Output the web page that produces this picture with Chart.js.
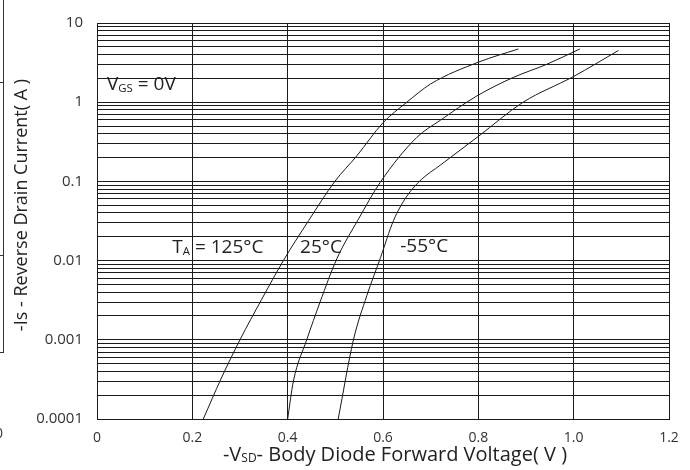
<!DOCTYPE html>
<html>
<head>
<meta charset="utf-8">
<script src="https://cdn.jsdelivr.net/npm/chart.js@4/dist/chart.umd.min.js"></script>
<style>
  body { margin: 0; background: #fff; }
  #wrap { width: 690px; height: 470px; }
</style>
</head>
<body>
<div id="wrap"><canvas id="diodeChart" width="690" height="470"></canvas></div>
<script>
// values (V, A)
const seriesNames = ['125°C', '25°C', '-55°C'];
const v125 = [0.223, 0.26, 0.300, 0.345, 0.391, 0.444, 0.499, 0.545, 0.60, 0.65, 0.70, 0.80, 0.884];
const i125 = [1e-4, 3.2e-4, 1e-3, 3.2e-3, 1e-2, 3.2e-2, 0.1, 0.21, 0.55, 1.0, 1.7, 3.2, 4.7];
const v25 = [0.40, 0.412, 0.44, 0.468, 0.503, 0.548, 0.594, 0.671, 0.72, 0.797, 0.873, 0.943, 1.013];
const i25 = [1e-4, 3e-4, 1e-3, 3e-3, 1.05e-2, 3.3e-2, 0.097, 0.36, 0.59, 1.2, 2.05, 3.0, 4.7];
const vm55 = [0.506, 0.538, 0.566, 0.595, 0.622, 0.65, 0.68, 0.72, 0.80, 0.894, 0.999, 1.094];
const im55 = [1e-4, 1e-3, 3.6e-3, 0.011, 0.032, 0.065, 0.105, 0.16, 0.37, 1.0, 2.1, 4.5];

// axes
const xTicks = [0, 0.2, 0.4, 0.6, 0.8, 1.0, 1.2];
const xTickLabels = ['0', '0.2', '0.4', '0.6', '0.8', '1.0', '1.2'];
const yDecades = [0.0001, 0.001, 0.01, 0.1, 1, 10];
const yDecadeLabels = ['0.0001', '0.001', '0.01', '0.1', '1', '10'];
const yMinorSteps = [1, 2, 3, 4, 5, 6, 7, 8, 9];

const FONT = "'Open Sans', sans-serif";

function toPoints(xs, ys) {
  return xs.map((x, i) => ({ x: x, y: ys[i] }));
}

function curve(label, xs, ys) {
  return {
    label: label,
    data: toPoints(xs, ys),
    showLine: true,
    borderColor: '#1a1a1a',
    borderWidth: 1,
    pointRadius: 0,
    cubicInterpolationMode: 'monotone'
  };
}

// text with subscripts: parts = [[text, isSub], ...]
function drawRich(ctx, parts, x, y, size) {
  ctx.save();
  ctx.fillStyle = '#222';
  ctx.textBaseline = 'middle';
  ctx.textAlign = 'left';
  let cx = x;
  parts.forEach(([t, sub]) => {
    const s = sub ? size * 0.6 : size;
    ctx.font = s + 'px ' + FONT;
    ctx.fillText(t, cx, sub ? y + size * 0.2 : y);
    cx += ctx.measureText(t).width;
  });
  ctx.restore();
}

function richWidth(ctx, parts, size) {
  let w = 0;
  parts.forEach(([t, sub]) => {
    ctx.font = (sub ? size * 0.6 : size) + 'px ' + FONT;
    w += ctx.measureText(t).width;
  });
  return w;
}

const textPlugin = {
  id: 'texts',
  afterDraw(chart) {
    const ctx = chart.ctx;
    const xs = chart.scales.x;
    const ys = chart.scales.y;

    drawRich(ctx, [['V', false], ['GS', true], [' = 0V', false]], xs.getPixelForValue(0.021), ys.getPixelForValue(1.65), 19);
    drawRich(ctx, [['T', false], ['A', true], [' = 125°C', false]], xs.getPixelForValue(0.158), ys.getPixelForValue(0.0145), 19);
    drawRich(ctx, [['25°C', false]], xs.getPixelForValue(0.426), ys.getPixelForValue(0.0145), 19);
    drawRich(ctx, [['-55°C', false]], xs.getPixelForValue(0.636), ys.getPixelForValue(0.015), 19);

    // x axis title
    const xt = [['-V', false], ['SD', true], ['- Body Diode Forward Voltage( V )', false]];
    const w = richWidth(ctx, xt, 20);
    drawRich(ctx, xt, 395 - w / 2, 455, 20);

    // y axis title
    ctx.save();
    ctx.translate(22, 205);
    ctx.rotate(-Math.PI / 2);
    ctx.font = '18px ' + FONT;
    ctx.fillStyle = '#222';
    ctx.textAlign = 'center';
    ctx.textBaseline = 'middle';
    ctx.fillText('-Is - Reverse Drain Current( A )', 0, 0);
    ctx.restore();

    // clipped frame of the neighbouring figure at the left edge
    ctx.save();
    ctx.strokeStyle = '#333';
    ctx.lineWidth = 1;
    ctx.beginPath();
    ctx.moveTo(3.5, 0);
    ctx.lineTo(3.5, 352);
    [82, 255, 352].forEach(y => { ctx.moveTo(0, y + 0.5); ctx.lineTo(4, y + 0.5); });
    ctx.stroke();
    ctx.font = '14px ' + FONT;
    ctx.fillStyle = '#333';
    ctx.textBaseline = 'middle';
    ctx.fillText('0', -5, 434);
    ctx.restore();
  }
};

const whiteBg = {
  id: 'whiteBg',
  beforeDraw(chart) {
    const ctx = chart.ctx;
    ctx.save();
    ctx.fillStyle = '#fff';
    ctx.fillRect(0, 0, chart.width, chart.height);
    ctx.restore();
  }
};

new Chart(document.getElementById('diodeChart'), {
  type: 'scatter',
  data: {
    datasets: [
      curve(seriesNames[0], v125, i125),
      curve(seriesNames[1], v25, i25),
      curve(seriesNames[2], vm55, im55)
    ]
  },
  options: {
    responsive: false,
    animation: false,
    devicePixelRatio: 1,
    layout: { padding: { left: 0, right: 21, top: 17, bottom: 0 } },
    plugins: { legend: { display: false }, tooltip: { enabled: false } },
    scales: {
      x: {
        type: 'linear',
        min: 0,
        max: 1.2,
        afterBuildTicks(scale) {
          scale.ticks = xTicks.map(v => ({ value: v }));
        },
        afterFit(scale) { scale.height = 51; },
        grid: { color: '#1a1a1a', lineWidth: 1, drawTicks: false },
        border: { color: '#1a1a1a' },
        ticks: {
          padding: 11,
          color: '#333',
          font: { family: FONT, size: 14 },
          maxRotation: 0,
          autoSkip: false,
          callback: (v, i) => xTickLabels[i]
        }
      },
      y: {
        type: 'logarithmic',
        min: 0.0001,
        max: 10,
        afterBuildTicks(scale) {
          const t = [];
          yDecades.forEach((d, k) => {
            if (k === yDecades.length - 1) { t.push({ value: d }); return; }
            yMinorSteps.forEach(m => t.push({ value: +(d * m).toPrecision(3) }));
          });
          scale.ticks = t;
        },
        afterFit(scale) { scale.width = 97; },
        grid: { color: '#1a1a1a', lineWidth: 1, drawTicks: false },
        border: { color: '#1a1a1a' },
        ticks: {
          padding: 14,
          color: '#333',
          font: { family: FONT, size: 15 },
          autoSkip: false,
          callback: (v) => {
            const k = yDecades.findIndex(d => Math.abs(d - v) < d * 1e-6);
            return k >= 0 ? yDecadeLabels[k] : '';
          }
        }
      }
    }
  },
  plugins: [whiteBg, textPlugin]
});
</script>
</body>
</html>
